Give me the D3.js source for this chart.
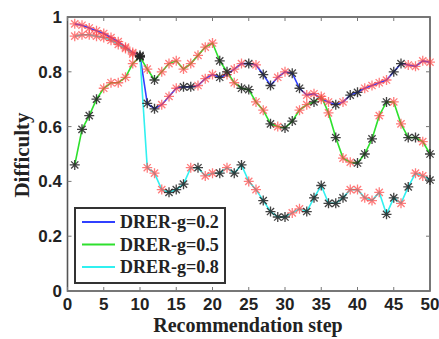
<!DOCTYPE html>
<meta charset="utf-8">
<style>
	body { margin: 0; background: #fff; }
	.tick-label {
		font-family: "Liberation Sans", Arial, sans-serif;
		font-weight: bold;
		font-size: 17px;
		fill: #222;
	}
	.axis-title, .legend-text {
		font-family: "Liberation Serif", "Times New Roman", serif;
		font-weight: bold;
		fill: #222;
	}
	.series { fill: none; stroke-width: 1.6px; }
</style>
<body>
<div id="chart"></div>
<script src="https://cdnjs.cloudflare.com/ajax/libs/d3/7.8.5/d3.min.js"></script>
<script>
	// recommendation steps 1..50
	var steps = d3.range(1, 51);

	// difficulty
	var drer02 = [0.975, 0.97, 0.96, 0.95, 0.94, 0.925, 0.91, 0.89, 0.87, 0.86,
		0.685, 0.665, 0.68, 0.71, 0.74, 0.745, 0.745, 0.75, 0.775, 0.79,
		0.78, 0.79, 0.81, 0.83, 0.83, 0.825, 0.79, 0.75, 0.78, 0.80,
		0.795, 0.74, 0.715, 0.72, 0.70, 0.69, 0.68, 0.69, 0.715, 0.725,
		0.74, 0.75, 0.76, 0.77, 0.80, 0.83, 0.825, 0.82, 0.84, 0.835];
	var drer05 = [0.46, 0.59, 0.64, 0.70, 0.74, 0.76, 0.76, 0.78, 0.83, 0.855,
		0.81, 0.77, 0.80, 0.83, 0.84, 0.81, 0.83, 0.86, 0.89, 0.905,
		0.84, 0.80, 0.76, 0.74, 0.735, 0.69, 0.66, 0.61, 0.60, 0.595,
		0.62, 0.66, 0.68, 0.69, 0.71, 0.65, 0.56, 0.485, 0.47, 0.467,
		0.50, 0.555, 0.64, 0.69, 0.69, 0.61, 0.56, 0.56, 0.545, 0.50];
	var drer08 = [0.93, 0.935, 0.935, 0.93, 0.925, 0.915, 0.90, 0.885, 0.865, 0.855,
		0.45, 0.43, 0.37, 0.36, 0.37, 0.39, 0.45, 0.45, 0.42, 0.43,
		0.43, 0.45, 0.43, 0.46, 0.40, 0.37, 0.33, 0.29, 0.27, 0.27,
		0.285, 0.30, 0.29, 0.34, 0.385, 0.32, 0.32, 0.34, 0.37, 0.37,
		0.34, 0.33, 0.36, 0.28, 0.34, 0.32, 0.38, 0.43, 0.42, 0.405];

	// marker colour per step: r = red star, k = black star
	var marks02 = "rrrrrrrrrkkkrrrkkrrrkrrrkrkkrrkkrrrrkrkkrrrrkkrrrr";
	var marks05 = "kkkkrrrrrkrkrrrrrrrrkkrkkrrkrkkrrkrrkrrkkkrkrrkkrk";
	var marks08 = "rrrrrrrrrkrrrkkkrkrrkrkkrrkkkkrrkkkkkkrrrrrkkrkrrk";

	var seriesNames = ["DRER-g=0.2", "DRER-g=0.5", "DRER-g=0.8"];
	var seriesColors = ["#3040ff", "#2ee02e", "#30f0f0"];

	var xTicks = [0, 5, 10, 15, 20, 25, 30, 35, 40, 45, 50];
	var yTicks = [0, 0.2, 0.4, 0.6, 0.8, 1];

	var series = [
		{name: seriesNames[0], color: seriesColors[0], values: drer02, marks: marks02},
		{name: seriesNames[1], color: seriesColors[1], values: drer05, marks: marks05},
		{name: seriesNames[2], color: seriesColors[2], values: drer08, marks: marks08}
	];

	var width = 439, height = 339;
	var plot = {left: 67.5, right: 430, top: 17, bottom: 291};

	var x = d3.scaleLinear().domain([0, 50]).range([plot.left, plot.right]);
	var y = d3.scaleLinear().domain([0, 1]).range([plot.bottom, plot.top]);

	var svg = d3.select("#chart").append("svg")
			.attr("width", width)
			.attr("height", height);

	var defs = svg.append("defs");
	defs.append("filter").attr("id", "soft")
			.append("feGaussianBlur").attr("stdDeviation", 0.55);

	// plot frame
	svg.append("rect")
			.attr("x", plot.left)
			.attr("y", plot.top)
			.attr("width", plot.right - plot.left)
			.attr("height", plot.bottom - plot.top)
			.attr("fill", "#fff")
			.attr("stroke", "#555")
			.attr("stroke-width", 1.6);

	// inward ticks on all four sides
	var tickLen = 4;
	var ticks = svg.append("g").attr("stroke", "#777").attr("stroke-width", 1);
	xTicks.forEach(function (t) {
		ticks.append("line").attr("x1", x(t)).attr("x2", x(t))
				.attr("y1", plot.bottom).attr("y2", plot.bottom - tickLen);
		ticks.append("line").attr("x1", x(t)).attr("x2", x(t))
				.attr("y1", plot.top).attr("y2", plot.top + tickLen);
	});
	yTicks.forEach(function (t) {
		ticks.append("line").attr("y1", y(t)).attr("y2", y(t))
				.attr("x1", plot.left).attr("x2", plot.left + tickLen);
		ticks.append("line").attr("y1", y(t)).attr("y2", y(t))
				.attr("x1", plot.right).attr("x2", plot.right - tickLen);
	});

	// tick labels
	svg.append("g").selectAll("text")
			.data(xTicks)
			.enter().append("text")
			.attr("class", "tick-label")
			.attr("x", function (d) { return x(d); })
			.attr("y", 310)
			.attr("text-anchor", "middle")
			.text(function (d) { return d; });

	svg.append("g").selectAll("text")
			.data(yTicks)
			.enter().append("text")
			.attr("class", "tick-label")
			.attr("x", 62)
			.attr("y", function (d) { return y(d) + 6; })
			.attr("text-anchor", "end")
			.text(function (d) { return d; });

	// axis titles
	svg.append("text")
			.attr("class", "axis-title")
			.attr("x", 248)
			.attr("y", 332)
			.attr("text-anchor", "middle")
			.style("font-size", "20px")
			.text("Recommendation step");

	svg.append("text")
			.attr("class", "axis-title")
			.attr("transform", "translate(29,155) rotate(-90)")
			.attr("text-anchor", "middle")
			.style("font-size", "21px")
			.text("Difficulty");

	// lines
	var line = d3.line()
			.x(function (d, i) { return x(steps[i]); })
			.y(function (d) { return y(d); });

	var dataG = svg.append("g").attr("filter", "url(#soft)");

	series.forEach(function (s) {
		dataG.append("path")
				.datum(s.values)
				.attr("class", "series")
				.attr("stroke", s.color)
				.attr("d", line);
	});

	// asterisk markers
	var r = 5, a = r * 0.72;
	var star = "M" + (-r) + ",0L" + r + ",0M0," + (-r) + "L0," + r +
			"M" + (-a) + "," + (-a) + "L" + a + "," + a +
			"M" + (-a) + "," + a + "L" + a + "," + (-a);

	series.forEach(function (s) {
		dataG.append("g").selectAll("path")
				.data(s.values)
				.enter().append("path")
				.attr("d", star)
				.attr("transform", function (d, i) {
					return "translate(" + x(steps[i]) + "," + y(d) + ")";
				})
				.attr("fill", "none")
				.attr("stroke", function (d, i) {
					return s.marks[i] === "r" ? "#ff4444" : "#222";
				})
				.attr("stroke-opacity", function (d, i) {
					return s.marks[i] === "r" ? 0.7 : 0.85;
				})
				.attr("stroke-width", 1.3);
	});

	// legend
	var legend = svg.append("g");
	legend.append("rect")
			.attr("x", 75)
			.attr("y", 208)
			.attr("width", 150)
			.attr("height", 75)
			.attr("fill", "#fff")
			.attr("stroke", "#333")
			.attr("stroke-width", 2);

	series.forEach(function (s, i) {
		var ly = 222 + i * 22.5;
		legend.append("line")
				.attr("x1", 82).attr("x2", 115)
				.attr("y1", ly).attr("y2", ly)
				.attr("stroke", s.color)
				.attr("stroke-width", 2);
		legend.append("text")
				.attr("class", "legend-text")
				.attr("x", 120)
				.attr("y", ly + 6)
				.style("font-size", "18px")
				.text(s.name);
	});
</script>
</body>
